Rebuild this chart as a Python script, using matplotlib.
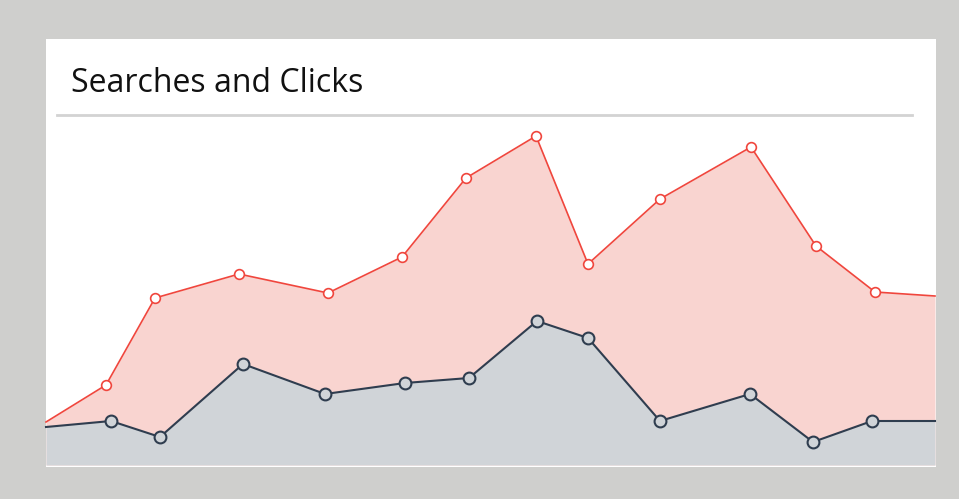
import matplotlib.pyplot as plt
from matplotlib.patches import Rectangle
from matplotlib.lines import Line2D

title = "Searches and Clicks"
search_x = [0, 60, 109, 193, 282, 356, 420, 490, 542, 614, 705, 770, 829, 889]
searches = [43, 80, 167, 191, 172, 208, 287, 329, 201, 266, 318, 219, 173, 169]
click_x = [0, 65, 114, 197, 279, 359, 423, 491, 542, 614, 704, 767, 826, 889]
clicks = [38, 44, 28, 101, 71, 82, 87, 144, 127, 44, 71, 23, 44, 44]

W, H = 959, 499
fig = plt.figure(figsize=(W / 100, H / 100), dpi=100)
fig.patch.set_facecolor('#cfcfcd')

# white panel
fig.patches.append(Rectangle((46 / W, 1 - 467 / H), (936 - 46) / W, (467 - 39) / H,
                             transform=fig.transFigure, facecolor='white', edgecolor='none', zorder=-5))
# separator line
fig.lines.append(Line2D([57 / W, 912 / W], [1 - 115 / H, 1 - 115 / H], transform=fig.transFigure,
                        color='#d3d3d3', lw=2, zorder=-4))
fig.text(71 / W, 1 - 84 / H, title, fontsize=23, family='Open Sans', color='#111111', va='center', ha='left')

ax = fig.add_axes([46 / W, 1 - 465 / H, (935 - 46) / W, (465 - 120) / H])
ax.set_zorder(2)
ax.set_facecolor('none')
ax.set_xlim(0, 889)
ax.set_ylim(0, 345)
ax.axis('off')

ax.fill_between(search_x, searches, 0, color='#f9d4d0', lw=0, zorder=1)
ax.plot(search_x, searches, color='#f0463d', lw=1.2, zorder=3, clip_on=False,
        marker='o', markersize=7, markerfacecolor='white', markeredgecolor='#f0463d',
        markeredgewidth=1.2, markevery=list(range(1, len(searches) - 1)))

ax.fill_between(click_x, clicks, 0, color='#d0d4d8', lw=0, zorder=2)
ax.plot(click_x, clicks, color='#2f3d4f', lw=1.5, zorder=4, clip_on=False,
        marker='o', markersize=8.5, markerfacecolor='#d0d4d8', markeredgecolor='#2f3d4f',
        markeredgewidth=1.5, markevery=list(range(1, len(clicks) - 1)))

fig.savefig('out.png', dpi=100, facecolor=fig.get_facecolor())
